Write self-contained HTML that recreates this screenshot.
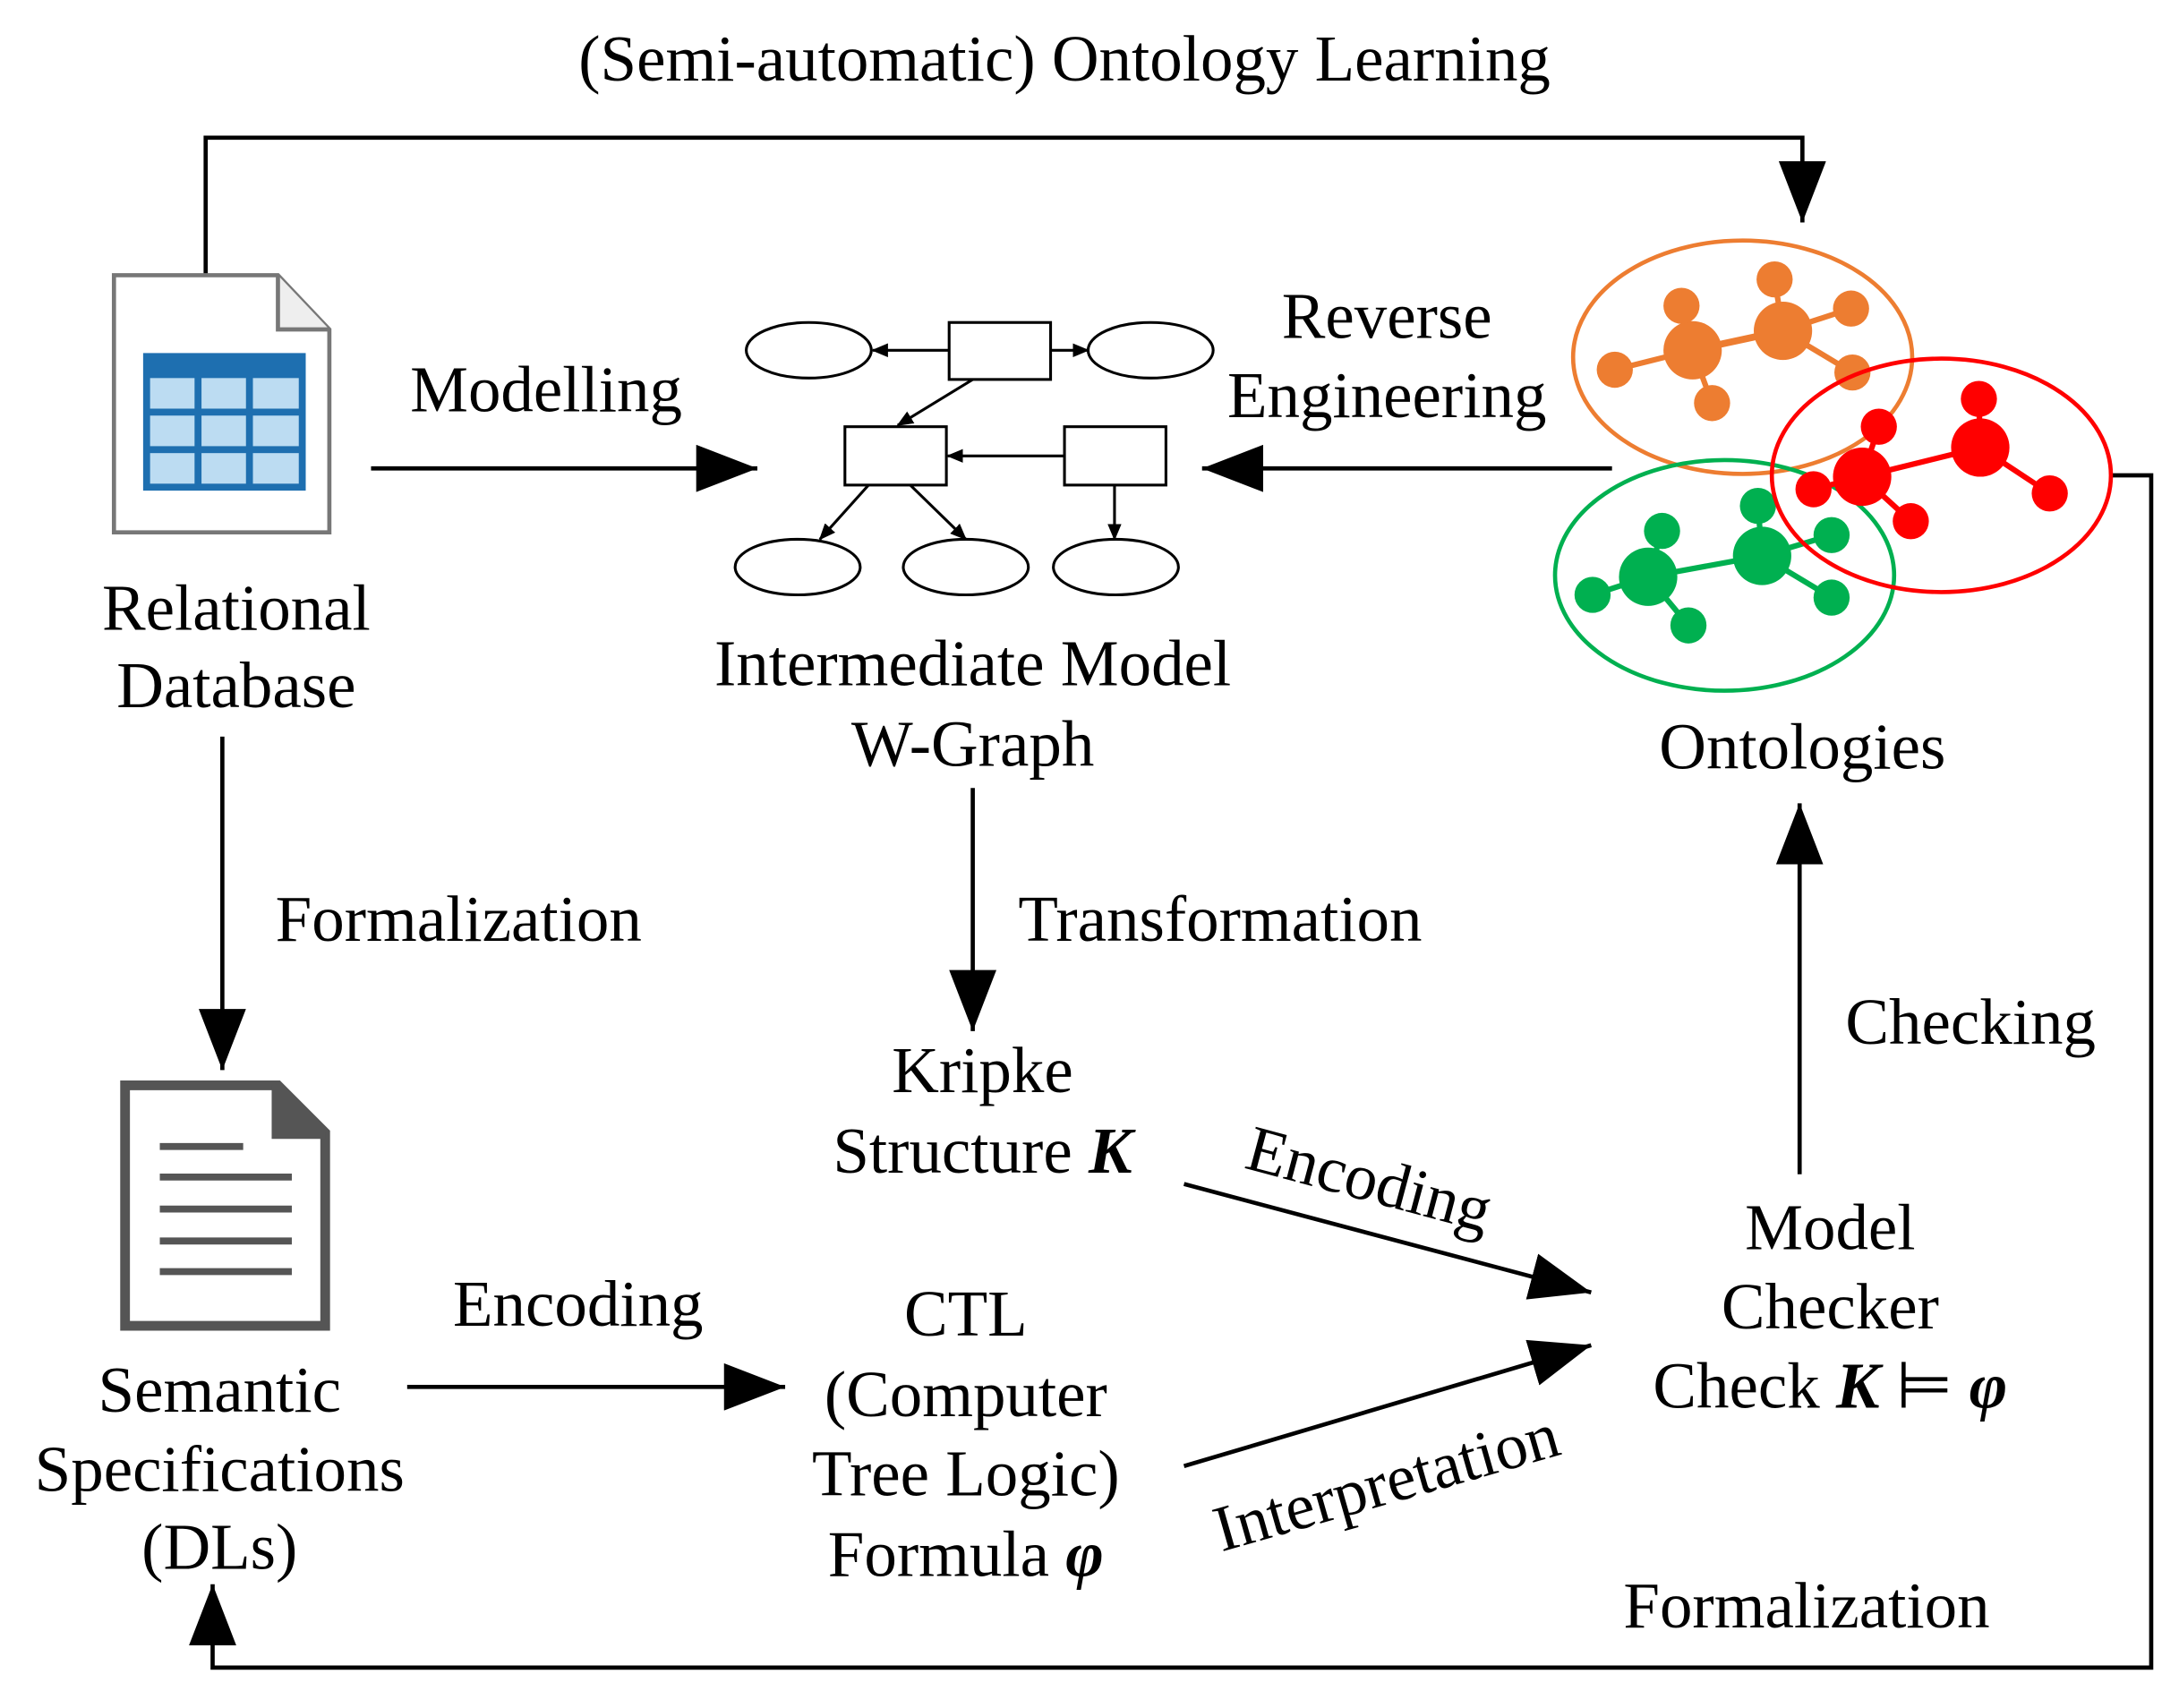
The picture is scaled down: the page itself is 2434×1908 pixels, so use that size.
<!DOCTYPE html>
<html><head><meta charset="utf-8"><style>
html,body{margin:0;padding:0;background:#fff;}
svg{display:block;}
text{font-family:"Liberation Serif",serif;font-size:47px;fill:#000;}
</style></head><body>
<svg width="2434" height="1908" viewBox="0 0 1568 1229" xmlns="http://www.w3.org/2000/svg">
<defs>
<marker id="a" markerWidth="12" markerHeight="10" refX="11" refY="5" orient="auto" markerUnits="userSpaceOnUse" viewBox="0 0 12 10">
<path d="M0,0 L12,5 L0,10 Z" fill="#000"/></marker>
<marker id="A" viewBox="0 0 44 34" refX="44" refY="17" markerWidth="44" markerHeight="34" orient="auto" markerUnits="userSpaceOnUse">
<path d="M0,0 L44,17 L0,34 Z" fill="#000"/></marker>
</defs>
<g stroke="#000" stroke-width="3" fill="none">
<polyline points="148,197 148,99 1297,99 1297,160" marker-end="url(#A)"/>
<line x1="267" y1="337" x2="545" y2="337" marker-end="url(#A)"/>
<line x1="1160" y1="337" x2="865" y2="337" marker-end="url(#A)"/>
<polyline points="1519,342 1548,342 1548,1200 153,1200 153,1140" marker-end="url(#A)"/>
<line x1="160" y1="530" x2="160" y2="770" marker-end="url(#A)"/>
<line x1="293" y1="998" x2="565" y2="998" marker-end="url(#A)"/>
<line x1="700" y1="567" x2="700" y2="742" marker-end="url(#A)"/>
<line x1="852" y1="852" x2="1145" y2="930" marker-end="url(#A)"/>
<line x1="852" y1="1055" x2="1145" y2="968" marker-end="url(#A)"/>
<line x1="1295" y1="845" x2="1295" y2="578" marker-end="url(#A)"/>
</g>
<path d="M82,198 L200,198 L237,237 L237,383 L82,383 Z" fill="#fff" stroke="#777" stroke-width="3"/>
<path d="M200,198 L200,237 L237,237" fill="#eee" stroke="#777" stroke-width="3"/>
<rect x="103" y="254" width="117" height="99" fill="#1e6fb0"/>
<g fill="#bcdcf2">
<rect x="108" y="272" width="32" height="22"/><rect x="145" y="272" width="32" height="22"/><rect x="182" y="272" width="33" height="22"/>
<rect x="108" y="299" width="32" height="22"/><rect x="145" y="299" width="32" height="22"/><rect x="182" y="299" width="33" height="22"/>
<rect x="108" y="326" width="32" height="22"/><rect x="145" y="326" width="32" height="22"/><rect x="182" y="326" width="33" height="22"/>
</g>
<path d="M90,781 L200,781 L234,815 L234,954 L90,954 Z" fill="#fff" stroke="#555" stroke-width="7"/>
<path d="M198,781 L198,817 L234,817" fill="#555" stroke="#555" stroke-width="5"/>
<g stroke="#555" stroke-width="5">
<line x1="115" y1="825" x2="175" y2="825"/><line x1="115" y1="847" x2="210" y2="847"/>
<line x1="115" y1="870" x2="210" y2="870"/><line x1="115" y1="893" x2="210" y2="893"/><line x1="115" y1="915" x2="210" y2="915"/>
</g>
<g stroke="#000" stroke-width="2" fill="#fff">
<ellipse cx="582" cy="252" rx="45" ry="20"/><ellipse cx="828" cy="252" rx="45" ry="20"/>
<rect x="683" y="232" width="73" height="41"/>
<rect x="608" y="307" width="73" height="42"/><rect x="766" y="307" width="73" height="42"/>
<ellipse cx="574" cy="408" rx="45" ry="20"/><ellipse cx="695" cy="408" rx="45" ry="20"/><ellipse cx="803" cy="408" rx="45" ry="20"/>
</g>
<g stroke="#000" stroke-width="2" fill="none">
<line x1="683" y1="252" x2="628" y2="252" marker-end="url(#a)"/>
<line x1="756" y1="252" x2="783" y2="252" marker-end="url(#a)"/>
<line x1="700" y1="273" x2="646" y2="306" marker-end="url(#a)"/>
<line x1="766" y1="328" x2="682" y2="328" marker-end="url(#a)"/>
<line x1="625" y1="349" x2="590" y2="388" marker-end="url(#a)"/>
<line x1="655" y1="349" x2="695" y2="388" marker-end="url(#a)"/>
<line x1="802" y1="349" x2="802" y2="388" marker-end="url(#a)"/>
</g>
<g stroke-width="5">
<line x1="1218" y1="252" x2="1283" y2="238" stroke="#ed7d31"/>
<g fill="#ed7d31" stroke="#ed7d31" stroke-width="4">
<line x1="1218" y1="252" x2="1210" y2="220"/><line x1="1218" y1="252" x2="1162" y2="266"/><line x1="1218" y1="252" x2="1232" y2="290"/>
<line x1="1283" y1="238" x2="1277" y2="201"/><line x1="1283" y1="238" x2="1332" y2="222"/><line x1="1283" y1="238" x2="1333" y2="268"/>
</g>
<g fill="#ed7d31"><circle cx="1218" cy="252" r="21"/><circle cx="1283" cy="238" r="21"/>
<circle cx="1210" cy="220" r="13"/><circle cx="1277" cy="201" r="13"/><circle cx="1332" cy="222" r="13"/><circle cx="1162" cy="266" r="13"/><circle cx="1232" cy="290" r="13"/><circle cx="1333" cy="268" r="13"/></g>
<ellipse cx="1254" cy="257" rx="122" ry="84" fill="none" stroke="#ed7d31" stroke-width="3"/>
<g stroke="#00b050" stroke-width="4">
<line x1="1186" y1="415" x2="1268" y2="400"/><line x1="1186" y1="415" x2="1196" y2="382"/><line x1="1186" y1="415" x2="1146" y2="428"/><line x1="1186" y1="415" x2="1215" y2="450"/>
<line x1="1268" y1="400" x2="1265" y2="364"/><line x1="1268" y1="400" x2="1318" y2="385"/><line x1="1268" y1="400" x2="1318" y2="430"/>
</g>
<g fill="#00b050"><circle cx="1186" cy="415" r="21"/><circle cx="1268" cy="400" r="21"/>
<circle cx="1196" cy="382" r="13"/><circle cx="1265" cy="364" r="13"/><circle cx="1318" cy="385" r="13"/><circle cx="1146" cy="428" r="13"/><circle cx="1215" cy="450" r="13"/><circle cx="1318" cy="430" r="13"/></g>
<ellipse cx="1241" cy="414" rx="122" ry="83" fill="none" stroke="#00b050" stroke-width="3"/>
<g stroke="#ff0000" stroke-width="4">
<line x1="1340" y1="343" x2="1425" y2="322"/><line x1="1340" y1="343" x2="1352" y2="307"/><line x1="1340" y1="343" x2="1305" y2="352"/><line x1="1340" y1="343" x2="1375" y2="375"/>
<line x1="1425" y1="322" x2="1424" y2="287"/><line x1="1425" y1="322" x2="1475" y2="355"/>
</g>
<g fill="#ff0000"><circle cx="1340" cy="343" r="21"/><circle cx="1425" cy="322" r="21"/>
<circle cx="1352" cy="307" r="13"/><circle cx="1424" cy="287" r="13"/><circle cx="1305" cy="352" r="13"/><circle cx="1375" cy="375" r="13"/><circle cx="1475" cy="355" r="13"/></g>
<ellipse cx="1397" cy="342" rx="122" ry="84" fill="none" stroke="#ff0000" stroke-width="3"/>
</g>
<g text-anchor="middle">
<text x="766" y="58">(Semi-automatic) Ontology Learning</text>
<text x="170" y="453">Relational</text><text x="170" y="509">Database</text>
<text x="393" y="296">Modelling</text>
<text x="700" y="493">Intermediate Model</text><text x="700" y="551">W-Graph</text>
<text x="998" y="243">Reverse</text><text x="998" y="300">Engineering</text>
<text x="1297" y="553">Ontologies</text>
<text x="330" y="677">Formalization</text>
<text x="878" y="677">Transformation</text>
<text x="707" y="786">Kripke</text><text x="707" y="844">Structure <tspan font-weight="bold" font-style="italic">K</tspan></text>
<text x="1418" y="751">Checking</text>
<text x="1317" y="899">Model</text><text x="1317" y="956">Checker</text>
<text x="1317" y="1013">Check <tspan font-weight="bold" font-style="italic">K</tspan> ⊨ <tspan font-weight="bold" font-style="italic">φ</tspan></text>
<text x="416" y="954">Encoding</text>
<text x="695" y="961">CTL</text><text x="695" y="1019">(Computer</text><text x="695" y="1076">Tree Logic)</text>
<text x="695" y="1134">Formula <tspan font-weight="bold" font-style="italic">φ</tspan></text>
<text x="158" y="1016">Semantic</text><text x="158" y="1073">Specifications</text><text x="158" y="1129">(DLs)</text>
<text x="1300" y="1171">Formalization</text>
<text x="985" y="864" transform="rotate(15 985 850)">Encoding</text>
<text x="998" y="1082" transform="rotate(-16 998 1068)">Interpretation</text>
</g>
</svg>
</body></html>
